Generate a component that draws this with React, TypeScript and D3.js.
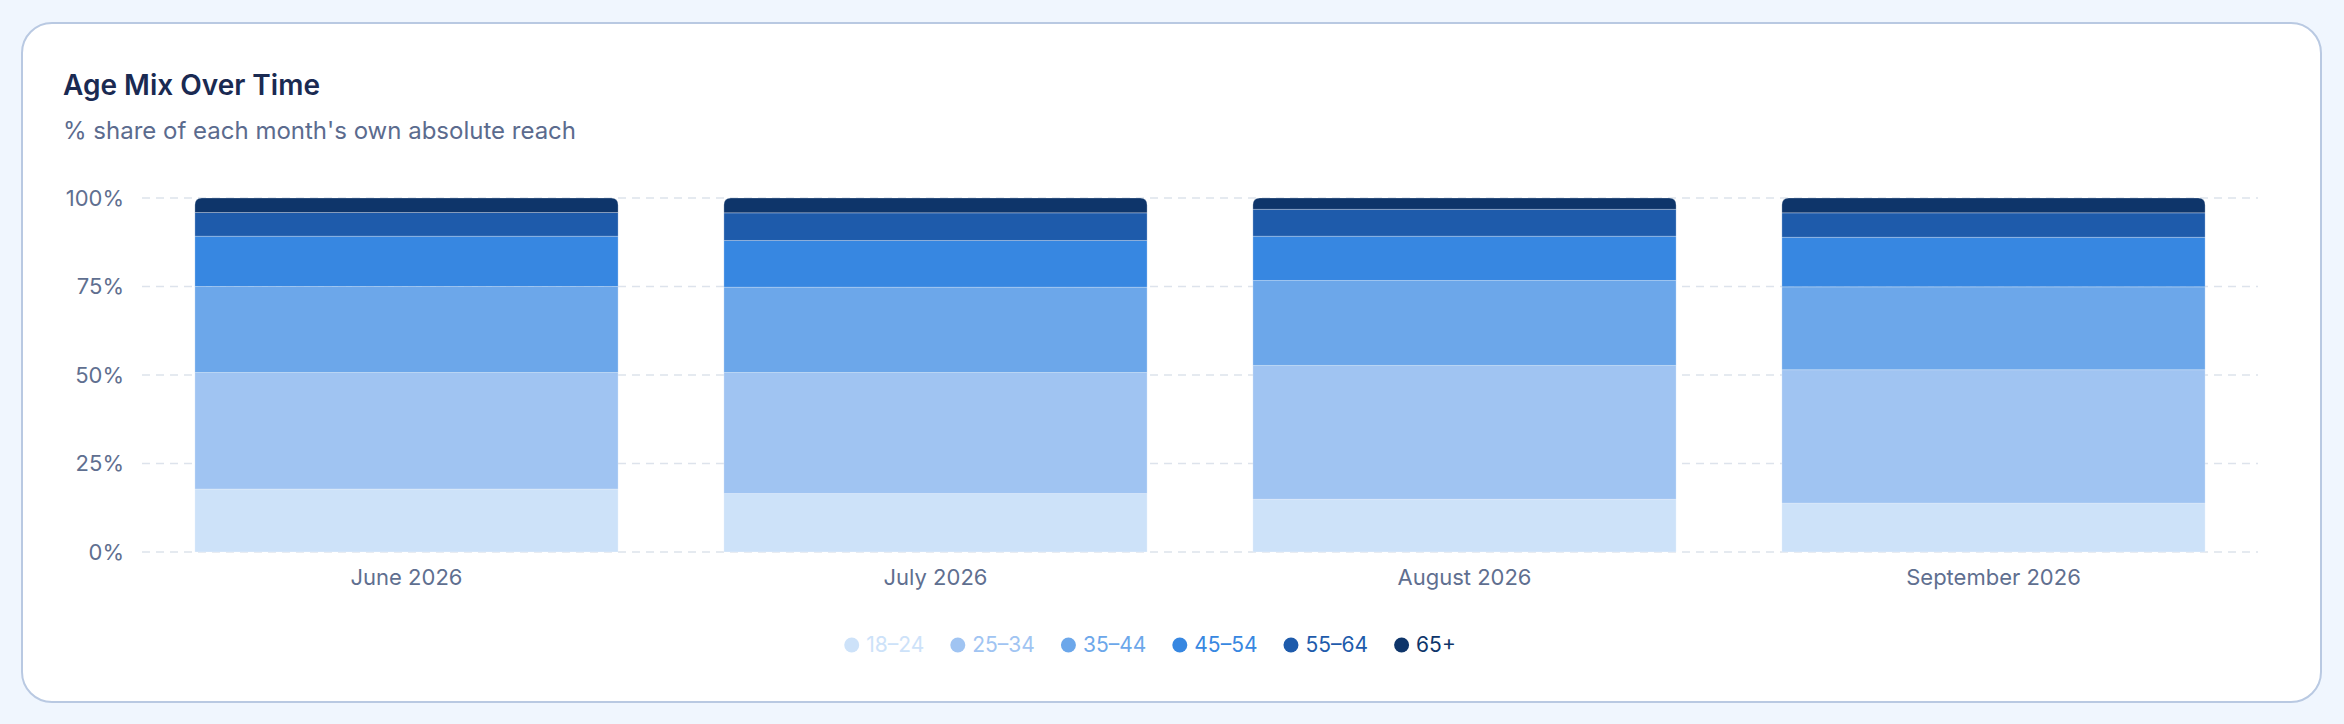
import React, { useRef, useEffect } from 'react';
import * as d3 from 'd3';

// chart values
const months = ['June 2026', 'July 2026', 'August 2026', 'September 2026'];
const ageGroups = ['18–24', '25–34', '35–44', '45–54', '55–64', '65+'];
const share18to24 = [17.8, 16.5, 14.9, 13.8];
const share25to34 = [32.9, 34.2, 37.8, 37.7];
const share35to44 = [24.3, 24.1, 24.0, 23.4];
const share45to54 = [14.2, 13.2, 12.5, 14.0];
const share55to64 = [6.7, 7.8, 7.6, 6.9];
const share65plus = [4.1, 4.2, 3.2, 4.2];
const yTicks = [0, 25, 50, 75, 100];
const groupColors = ['#cde2f9', '#a0c4f2', '#6ca7ea', '#3787e1', '#1e5bab', '#0e356a'];

const W = 2344;
const H = 724;

// rect with only the top corners rounded
const topRounded = (x: number, y: number, w: number, h: number, r: number) => {
  const rr = Math.min(r, h, w / 2);
  return `M${x},${y + h}V${y + rr}Q${x},${y} ${x + rr},${y}H${x + w - rr}Q${x + w},${y} ${x + w},${y + rr}V${y + h}Z`;
};

const AgeMixChart: React.FC = () => {
  const svgRef = useRef<SVGSVGElement>(null);

  useEffect(() => {
    if (!svgRef.current) return;
    const svg = d3.select(svgRef.current);
    svg.selectAll('*').remove();

    const font = 'Inter, "Noto Sans", sans-serif';

    // card
    svg.append('rect')
      .attr('x', 22).attr('y', 23)
      .attr('width', 2299).attr('height', 679)
      .attr('rx', 30)
      .attr('fill', '#ffffff')
      .attr('stroke', '#b9c9e2')
      .attr('stroke-width', 2);

    svg.append('text')
      .attr('x', 63).attr('y', 95)
      .attr('font-family', font).attr('font-size', 28).attr('font-weight', 600)
      .attr('fill', '#1a2a52')
      .text('Age Mix Over Time');

    svg.append('text')
      .attr('x', 63).attr('y', 139)
      .attr('font-family', font).attr('font-size', 24)
      .attr('fill', '#5b6b8e')
      .text("% share of each month's own absolute reach");

    const left = 142;
    const right = 2258;
    const top = 198;
    const bottom = 552;

    const x = d3.scaleBand<string>()
      .domain(months)
      .range([left, right])
      .paddingInner(0.2)
      .paddingOuter(0.1);

    const y = d3.scaleLinear().domain([0, 100]).range([bottom, top]);

    // grid + y labels
    const grid = svg.append('g');
    yTicks.forEach(t => {
      grid.append('line')
        .attr('x1', left).attr('x2', right)
        .attr('y1', y(t)).attr('y2', y(t))
        .attr('stroke', '#dde3ec')
        .attr('stroke-width', 1.5)
        .attr('stroke-dasharray', '8,6');
      grid.append('text')
        .attr('x', 124).attr('y', y(t))
        .attr('dy', '0.35em')
        .attr('text-anchor', 'end')
        .attr('font-family', font).attr('font-size', 22)
        .attr('fill', '#5f6f90')
        .text(`${t}%`);
    });

    // stacked bars
    const rows = months.map((m, i) => ({
      month: m,
      [ageGroups[0]]: share18to24[i],
      [ageGroups[1]]: share25to34[i],
      [ageGroups[2]]: share35to44[i],
      [ageGroups[3]]: share45to54[i],
      [ageGroups[4]]: share55to64[i],
      [ageGroups[5]]: share65plus[i],
    }));
    const series = d3.stack<any>().keys(ageGroups)(rows);

    const bars = svg.append('g');
    series.forEach((s, si) => {
      s.forEach(d => {
        const bx = x(d.data.month) as number;
        const by = y(d[1]);
        const bh = y(d[0]) - y(d[1]);
        const bw = x.bandwidth();
        const isTop = si === series.length - 1;
        bars.append('path')
          .attr('d', isTop ? topRounded(bx, by, bw, bh, 7) : `M${bx},${by}h${bw}v${bh}h${-bw}Z`)
          .attr('fill', groupColors[si])
          .attr('stroke', 'rgba(255,255,255,0.25)')
          .attr('stroke-width', 1);
      });
    });

    // x labels
    months.forEach(m => {
      svg.append('text')
        .attr('x', (x(m) as number) + x.bandwidth() / 2)
        .attr('y', 585)
        .attr('text-anchor', 'middle')
        .attr('font-family', font).attr('font-size', 22)
        .attr('fill', '#5f6f90')
        .text(m);
    });

    // legend, measured and centred
    const legend = svg.append('g');
    let cursor = 0;
    ageGroups.forEach((g, i) => {
      const item = legend.append('g').attr('transform', `translate(${cursor},0)`);
      item.append('circle').attr('cx', 7.5).attr('cy', 0).attr('r', 7.5).attr('fill', groupColors[i]);
      const label = item.append('text')
        .attr('x', 22).attr('dy', '0.35em')
        .attr('font-family', font).attr('font-size', 21)
        .attr('fill', groupColors[i])
        .text(g);
      const tw = (label.node() as SVGTextElement).getComputedTextLength();
      cursor += 22 + tw + (i < ageGroups.length - 1 ? 26 : 0);
    });
    legend.attr('transform', `translate(${1150 - cursor / 2},645)`);
  }, []);

  return <svg ref={svgRef} width={W} height={H} style={{ display: 'block' }} />;
};

export default function App() {
  return (
    <div style={{ position: 'fixed', left: 0, top: 0, width: W, height: H, background: '#f0f6fe' }}>
      <AgeMixChart />
    </div>
  );
}
